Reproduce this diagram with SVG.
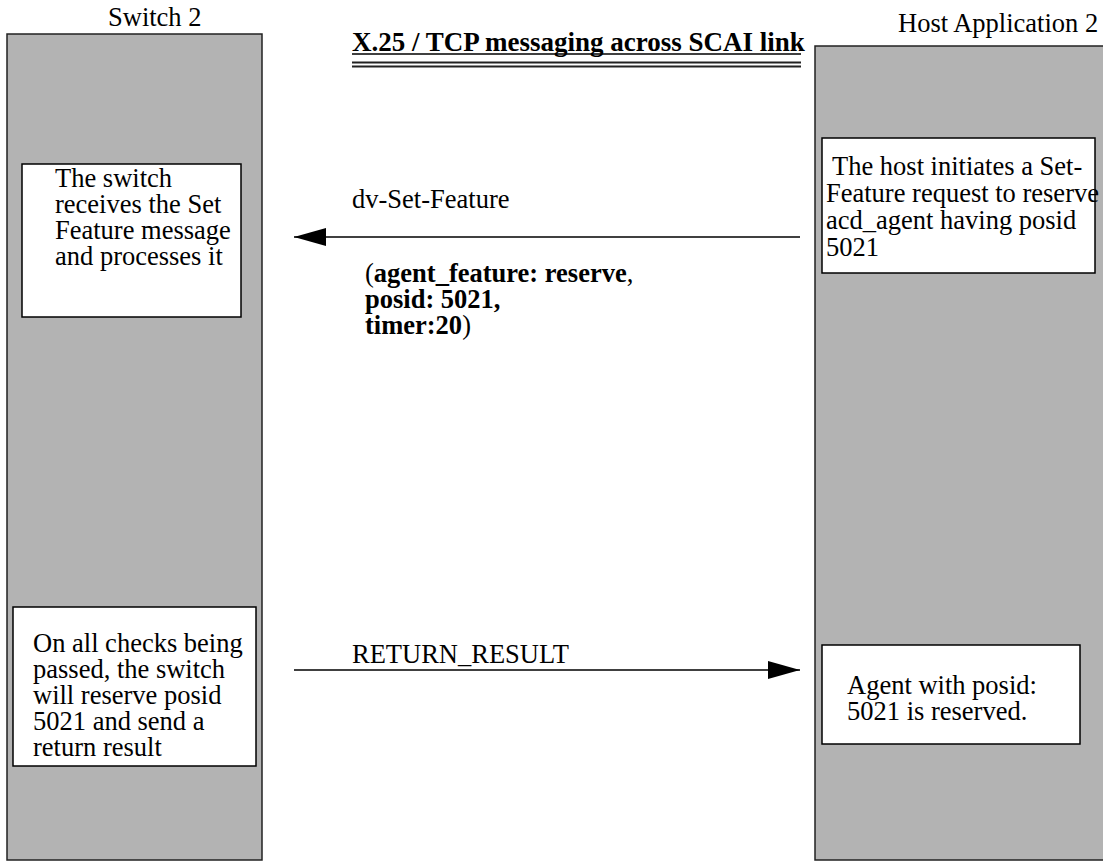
<svg xmlns="http://www.w3.org/2000/svg" width="1103" height="861" viewBox="0 0 1103 861">
  <style>
    text { font-family: "Liberation Serif", "Times New Roman", serif; fill: #000; font-size: 26.5px; }
    .title { font-size: 27px; font-weight: bold; }
    .b { font-weight: bold; }
    .lane { fill: #b3b3b3; stroke: #222; stroke-width: 1.5; }
    .box { fill: #fff; stroke: #000; stroke-width: 1.5; }
    .wire { stroke: #000; stroke-width: 1.5; fill: none; }
  </style>
  <defs>
    <marker id="arrow" viewBox="0 0 32 18" refX="32" refY="9" markerWidth="32" markerHeight="18" markerUnits="userSpaceOnUse" orient="auto">
      <path d="M0,0 L32,9 L0,18 Z" fill="#000"/>
    </marker>
  </defs>

  <rect width="1103" height="861" fill="#fff"/>

  <!-- lifeline columns -->
  <g id="switch-lane">
    <rect class="lane" x="7" y="34" width="255" height="826"/>
    <text x="108" y="26">Switch 2</text>
  </g>
  <g id="host-lane">
    <rect class="lane" x="815" y="46" width="300" height="814"/>
    <text x="898" y="32">Host Application 2</text>
  </g>

  <!-- heading -->
  <g id="title">
    <text class="title" x="352" y="51">X.25 / TCP messaging across SCAI link</text>
    <line class="wire" x1="352" y1="54" x2="801" y2="54"/>
    <line x1="352" y1="62.5" x2="801" y2="62.5" stroke="#222" stroke-width="2"/>
    <line x1="352" y1="66.5" x2="801" y2="66.5" stroke="#222" stroke-width="2"/>
  </g>

  <!-- activity boxes -->
  <g id="switch-receive">
    <rect class="box" x="22" y="164" width="219" height="153"/>
    <text x="55" y="187">The switch</text>
    <text x="55" y="213">receives the Set</text>
    <text x="55" y="239">Feature message</text>
    <text x="55" y="265">and processes it</text>
  </g>
  <g id="host-request">
    <rect class="box" x="822" y="138" width="273" height="135"/>
    <text x="832" y="175">The host initiates a Set-</text>
    <text x="826" y="202">Feature request to reserve</text>
    <text x="826" y="229">acd_agent having posid</text>
    <text x="826" y="256">5021</text>
  </g>
  <g id="switch-reserve">
    <rect class="box" x="13" y="607" width="243" height="159"/>
    <text x="33" y="652">On all checks being</text>
    <text x="33" y="678">passed, the switch</text>
    <text x="33" y="704">will reserve posid</text>
    <text x="33" y="730">5021 and send a</text>
    <text x="33" y="756">return result</text>
  </g>
  <g id="host-reserved">
    <rect class="box" x="822" y="645" width="258" height="99"/>
    <text x="847" y="694">Agent with posid:</text>
    <text x="847" y="720">5021 is reserved.</text>
  </g>

  <!-- messages -->
  <g id="connectors">
    <line class="wire" x1="800" y1="237" x2="294" y2="237" marker-end="url(#arrow)"/>
    <text x="352" y="208">dv-Set-Feature</text>
    <text x="365" y="282">(<tspan class="b">agent_feature: reserve</tspan>,</text>
    <text class="b" x="365" y="308">posid: 5021,</text>
    <text x="365" y="334"><tspan class="b">timer:20</tspan>)</text>

    <line class="wire" x1="294" y1="670" x2="800" y2="670" marker-end="url(#arrow)"/>
    <text x="352" y="663">RETURN_RESULT</text>
  </g>
</svg>
